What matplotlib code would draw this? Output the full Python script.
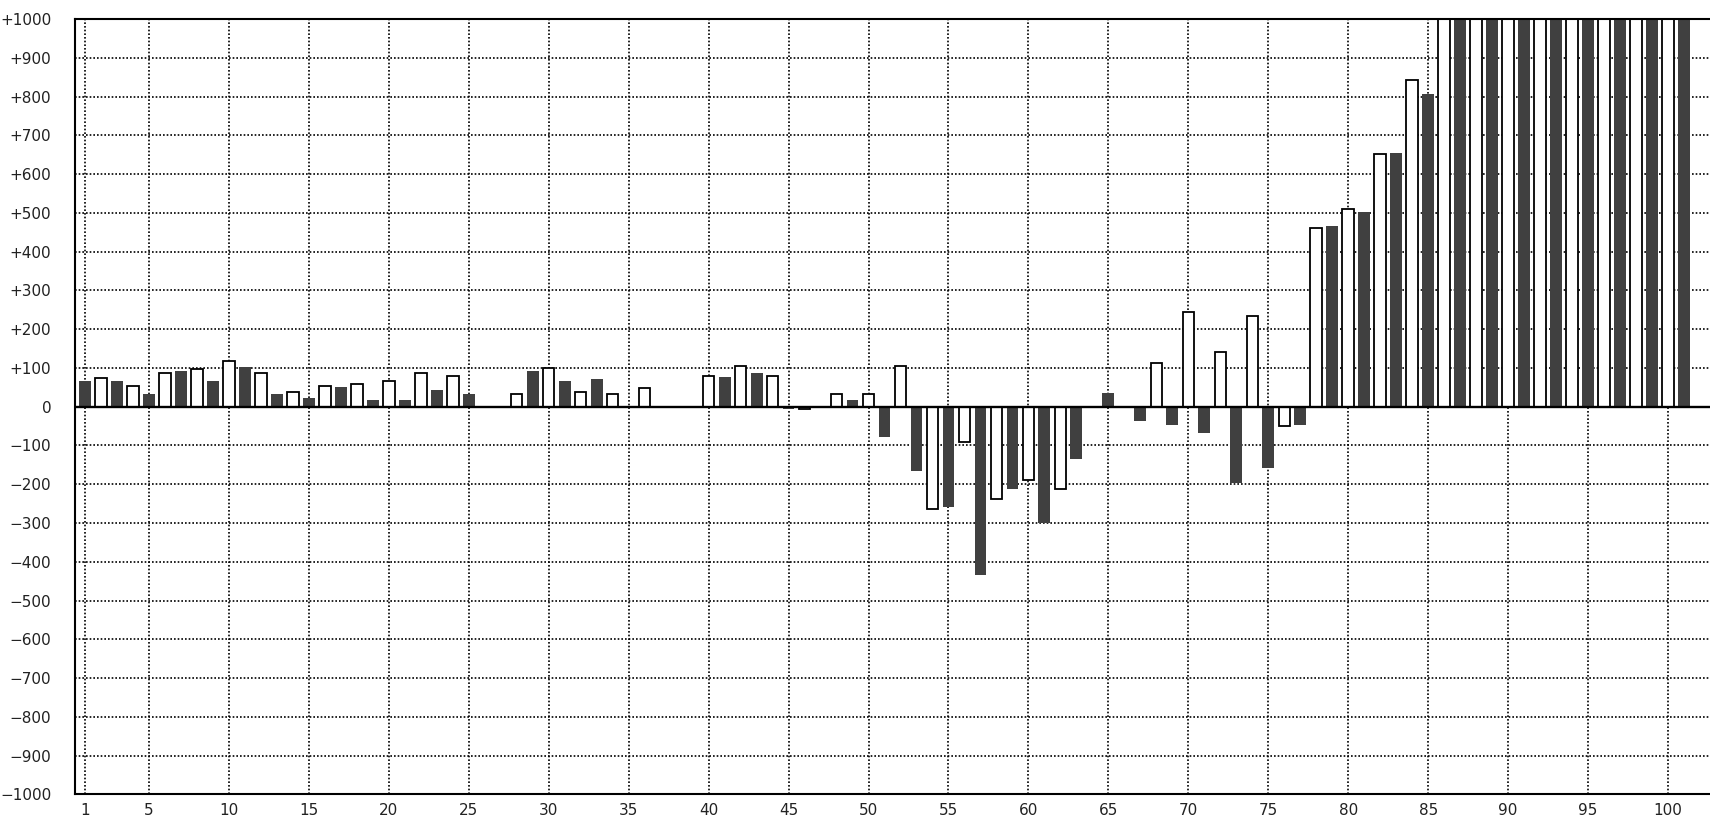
import numpy as np
import matplotlib
matplotlib.use("Agg")
import matplotlib.pyplot as plt

nan = np.nan

# odd positions 1, 3, ..., 101 (dark bars)
dark_vals = [65, 65, 34, 92, 65, 103, 34, 23, 50, 18,
             18, 44, 34, nan, 92, 65, 71, nan, nan, nan,
             76, 87, -7, nan, 18, -77, -166, -259, -435, -212,
             -300, -136, 36, -37, -47, -68, -198, -158, -47, 467,
             502, 654, 807, 1000, 1000, 1000, 1000, 1000, 1000, 1000,
             1000]
# even positions 2, 4, ..., 100 (white bars)
white_vals = [74, 53, 86, 96, 117, 86, 38, 54, 59, 65,
              86, 80, nan, 33, 101, 38, 33, 49, nan, 80,
              106, 80, -5, 32, 32, 106, -263, -91, -237, -190,
              -212, nan, nan, 114, 245, 141, 235, -51, 460, 510,
              653, 842, 1000, 1000, 1000, 1000, 1000, 1000, 1000, 1000]

dark_x = np.arange(1, 102, 2)
white_x = np.arange(2, 101, 2)

x_ticks = [1] + list(range(5, 101, 5))
y_ticks = list(range(-1000, 1001, 100))
y_labels = ["0" if v == 0 else ("+%d" % v if v > 0 else "\u2212%d" % -v) for v in y_ticks]

W, H = 1710, 818
fig = plt.figure(figsize=(W / 100, H / 100), dpi=100)
# axes runs past the right edge like in the original screenshot
ax = fig.add_axes([75 / W, (H - 794.4) / H, (1716 - 75) / W, (794.4 - 19) / H])

ax.bar(dark_x, dark_vals, width=0.74, color="#404040", linewidth=0, zorder=2)
ax.bar(white_x, white_vals, width=0.72, color="white", edgecolor="black",
       linewidth=1.3, zorder=2)
ax.axhline(0, color="black", linewidth=1.7, zorder=3)

ax.set_xlim(0.375, 103.0)
ax.set_ylim(-1000, 1000)
ax.set_xticks(x_ticks)
ax.set_yticks(y_ticks)
ax.set_yticklabels(y_labels)
ax.tick_params(axis="both", length=0, labelsize=11, labelcolor="#222222")
ax.tick_params(axis="y", pad=17)
ax.tick_params(axis="x", pad=6)

ax.grid(True, color="black", linestyle=(0, (1, 1.2)), linewidth=1.2, zorder=1)
ax.set_axisbelow(True)
for side in ["left", "top", "bottom"]:
    ax.spines[side].set_linewidth(1.5)
    ax.spines[side].set_color("black")
ax.spines["right"].set_visible(False)

fig.savefig("out.png", dpi=100)
